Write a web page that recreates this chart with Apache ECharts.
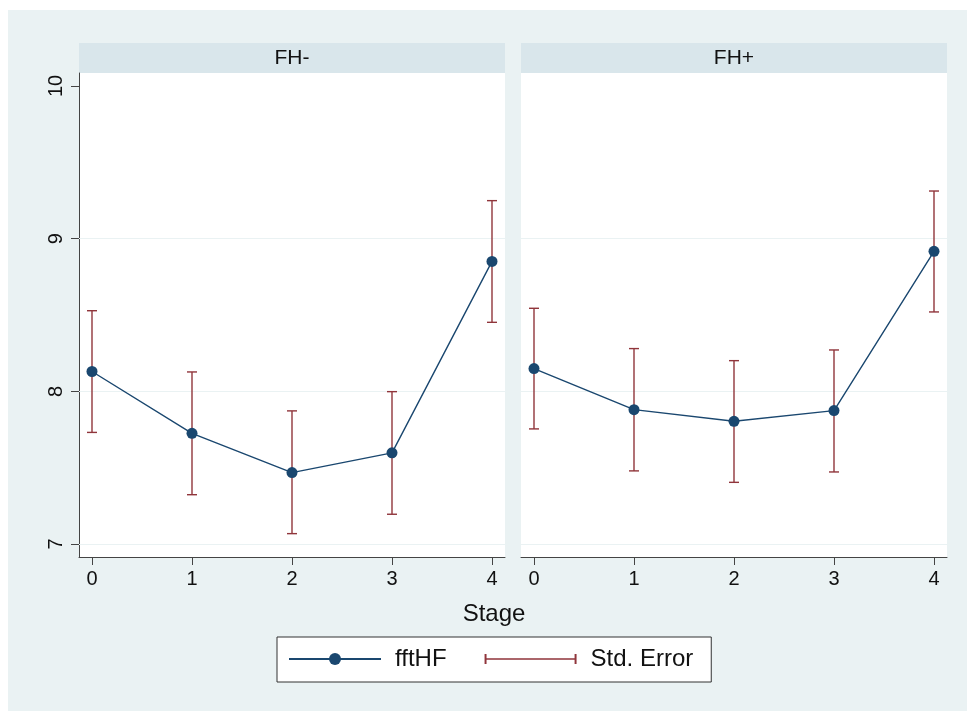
<!DOCTYPE html>
<html>
<head>
<meta charset="utf-8">
<script src="https://cdn.jsdelivr.net/npm/echarts@6/dist/echarts.min.js"></script>
<style>
html, body { margin: 0; padding: 0; background: #fff; }
#main { width: 967px; height: 711px; }
</style>
</head>
<body>
<div id="main"></div>
<script>
// data
var stages = [0, 1, 2, 3, 4];
var fhMinusMean = [8.13, 7.725, 7.468, 7.597, 8.851];
var fhMinusLow = [7.731, 7.323, 7.068, 7.195, 8.452];
var fhMinusHigh = [8.528, 8.127, 7.872, 7.998, 9.249];
var fhPlusMean = [8.149, 7.88, 7.804, 7.874, 8.917];
var fhPlusLow = [7.754, 7.479, 7.404, 7.472, 8.52];
var fhPlusHigh = [8.544, 8.28, 8.201, 8.271, 9.312];
var panelTitles = ['FH-', 'FH+'];
var xTicks = [0, 1, 2, 3, 4];
var yTicks = [7, 8, 9, 10];
var gridValues = [7, 8, 9];

var navy = '#1a476f', maroon = '#90353b';
var font = 'Liberation Sans, Arial, sans-serif';

var myChart = echarts.init(document.getElementById('main'));

function pairs(xs, ys) {
	return xs.map(function (x, i) { return [x, ys[i]]; });
}
function triples(xs, lo, hi) {
	return xs.map(function (x, i) { return [x, lo[i], hi[i]]; });
}

function errorBar(params, api) {
	var x = api.value(0);
	var top = api.coord([x, api.value(2)]);
	var bot = api.coord([x, api.value(1)]);
	var style = { stroke: maroon, lineWidth: 1.4 };
	return {
		type: 'group',
		children: [
			{ type: 'line', shape: { x1: top[0], y1: top[1], x2: bot[0], y2: bot[1] }, style: style },
			{ type: 'line', shape: { x1: top[0] - 5, y1: top[1], x2: top[0] + 5, y2: top[1] }, style: style },
			{ type: 'line', shape: { x1: bot[0] - 5, y1: bot[1], x2: bot[0] + 5, y2: bot[1] }, style: style }
		]
	};
}

function xAxisFor(idx) {
	return {
		type: 'value', gridIndex: idx, min: -0.13, max: 4.13,
		axisLine: { show: true, onZero: false, lineStyle: { color: '#444', width: 1 } },
		axisTick: { show: true, length: 8, customValues: xTicks, lineStyle: { color: '#444' } },
		axisLabel: { customValues: xTicks, margin: 12, fontSize: 20, color: '#111', fontFamily: font },
		splitLine: { show: false }
	};
}
function yAxisFor(idx) {
	return {
		type: 'value', gridIndex: idx, min: 6.915, max: 10.085,
		show: idx === 0,
		axisLine: { show: true, onZero: false, lineStyle: { color: '#444', width: 1 } },
		axisTick: { show: true, length: 8, customValues: yTicks, lineStyle: { color: '#444' } },
		axisLabel: { customValues: yTicks, rotate: 90, margin: 13, fontSize: 20, color: '#111', fontFamily: font },
		splitLine: { show: false }
	};
}

function lineSeries(idx, means) {
	return {
		name: 'fftHF', type: 'line', xAxisIndex: idx, yAxisIndex: idx,
		data: pairs(stages, means),
		symbol: 'circle', symbolSize: 11, z: 4,
		lineStyle: { color: navy, width: 1.4 },
		itemStyle: { color: navy },
		markLine: {
			silent: true, symbol: 'none', z: 1,
			label: { show: false },
			lineStyle: { color: '#eaf2f3', width: 1.2, type: 'solid' },
			data: gridValues.map(function (v) { return { yAxis: v }; })
		}
	};
}
function errSeries(idx, lo, hi) {
	return {
		name: 'Std. Error', type: 'custom', xAxisIndex: idx, yAxisIndex: idx,
		data: triples(stages, lo, hi),
		encode: { x: 0, y: [1, 2] },
		itemStyle: { color: maroon },
		renderItem: errorBar, z: 3
	};
}

var option = {
	backgroundColor: '#fff',
	animation: false,
	textStyle: { fontFamily: font },
	graphic: [
		{ type: 'rect', z: -10, shape: { x: 8, y: 10, width: 959, height: 701 }, style: { fill: '#eaf2f3' } },
		{ type: 'rect', shape: { x: 79, y: 43, width: 426, height: 30 }, style: { fill: '#d9e6eb' } },
		{ type: 'rect', shape: { x: 521, y: 43, width: 426, height: 30 }, style: { fill: '#d9e6eb' } },
		{ type: 'text', x: 292, y: 58, style: { text: panelTitles[0], fontSize: 21, fontFamily: font, fill: '#111', align: 'center', verticalAlign: 'middle' } },
		{ type: 'text', x: 734, y: 58, style: { text: panelTitles[1], fontSize: 21, fontFamily: font, fill: '#111', align: 'center', verticalAlign: 'middle' } },
		{ type: 'text', x: 494, y: 614, style: { text: 'Stage', fontSize: 24, fontFamily: font, fill: '#111', align: 'center', verticalAlign: 'middle' } }
	],
	legend: {
		left: 277, top: 637,
		padding: [10, 18, 11, 11],
		backgroundColor: '#fff', borderColor: '#333', borderWidth: 1, borderRadius: 0,
		itemWidth: 92, itemHeight: 15, itemGap: 38,
		textStyle: { fontSize: 24, color: '#111', fontFamily: font, lineHeight: 24, padding: [0, 0, 0, 9] },
		data: [
			{ name: 'fftHF' },
			{ name: 'Std. Error', icon: 'path://M0,0H2V10H0Z M0,4.25H93V5.75H0Z M91,0H93V10H91Z' }
		],
		selectedMode: false
	},
	grid: [
		{ left: 79, top: 73, width: 426, height: 484, show: true, backgroundColor: '#fff', borderWidth: 0 },
		{ left: 521, top: 73, width: 426, height: 484, show: true, backgroundColor: '#fff', borderWidth: 0 }
	],
	xAxis: [xAxisFor(0), xAxisFor(1)],
	yAxis: [yAxisFor(0), yAxisFor(1)],
	series: [
		lineSeries(0, fhMinusMean),
		errSeries(0, fhMinusLow, fhMinusHigh),
		lineSeries(1, fhPlusMean),
		errSeries(1, fhPlusLow, fhPlusHigh)
	]
};
myChart.setOption(option);
</script>
</body>
</html>
